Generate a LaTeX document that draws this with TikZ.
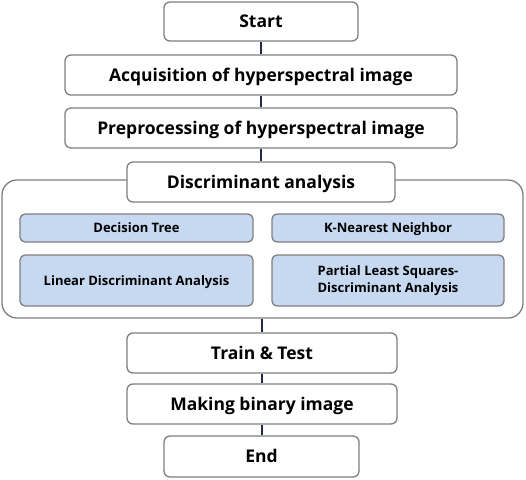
\documentclass[tikz,border=0pt]{standalone}
\usepackage{fontspec}
\setmainfont{Open Sans}[BoldFont={* Bold}]
\definecolor{boxline}{HTML}{7F7F7F}
\definecolor{conn}{HTML}{1F2D4A}
\definecolor{bluefill}{HTML}{C6D9F1}
\begin{document}
\begin{tikzpicture}[x=1pt,y=-1pt,
  mainbox/.style={draw=boxline,line width=1.3pt,rounded corners=6pt,fill=white,
    inner sep=0pt,align=center,font=\fontsize{17.5}{20}\selectfont\bfseries,
    text height=12.5pt,text depth=0pt},
  subbase/.style={draw=boxline,line width=1.3pt,rounded corners=5pt,fill=bluefill,
    inner sep=0pt,align=center,font=\fontsize{13}{16.5}\selectfont\bfseries},
  subbox/.style={subbase,text height=9.3pt,text depth=0pt},
  container/.style={draw=boxline,line width=1.3pt,rounded corners=15pt,fill=white,inner sep=0pt},
  link/.style={draw=conn,line width=1.6pt}]
\useasboundingbox[fill=white] (0,0) rectangle (526,479);
\node[container,minimum width=521pt,minimum height=138pt] (cont) at (262.5,249) {};
\node[mainbox,minimum width=194pt,minimum height=39pt] (start) at (261,21.5) {Start};
\node[mainbox,minimum width=392pt,minimum height=40pt] (acq) at (261,75) {Acquisition of hyperspectral image};
\node[mainbox,minimum width=392pt,minimum height=40pt] (pre) at (261,128) {Preprocessing of hyperspectral image};
\node[mainbox,minimum width=268pt,minimum height=40pt] (da) at (261,182) {Discriminant analysis};
\node[subbox,minimum width=233pt,minimum height=28pt] (dt) at (136.5,228) {Decision Tree};
\node[subbox,minimum width=232pt,minimum height=28pt] (knn) at (388,228) {K-Nearest Neighbor};
\node[subbox,minimum width=233pt,minimum height=51pt] (lda) at (136.5,280.5) {Linear Discriminant Analysis};
\node[subbase,minimum width=232pt,minimum height=51pt] (pls) at (388,280.5) {Partial Least Squares-\\Discriminant Analysis};
\node[mainbox,minimum width=270pt,minimum height=40pt] (train) at (262,353) {Train \& Test};
\node[mainbox,minimum width=270pt,minimum height=40pt] (bin) at (262,404) {Making binary image};
\node[mainbox,minimum width=195pt,minimum height=41pt] (end) at (261.5,456.5) {End};
\path[link] (start.south) -- (start.south |- acq.north);
\path[link] (acq.south) -- (acq.south |- pre.north);
\path[link] (pre.south) -- (pre.south |- da.north);
\path[link] (train.north |- cont.south) -- (train.north);
\path[link] (train.south) -- (bin.north);
\path[link] (bin.south) -- (bin.south |- end.north);
\end{tikzpicture}
\end{document}
